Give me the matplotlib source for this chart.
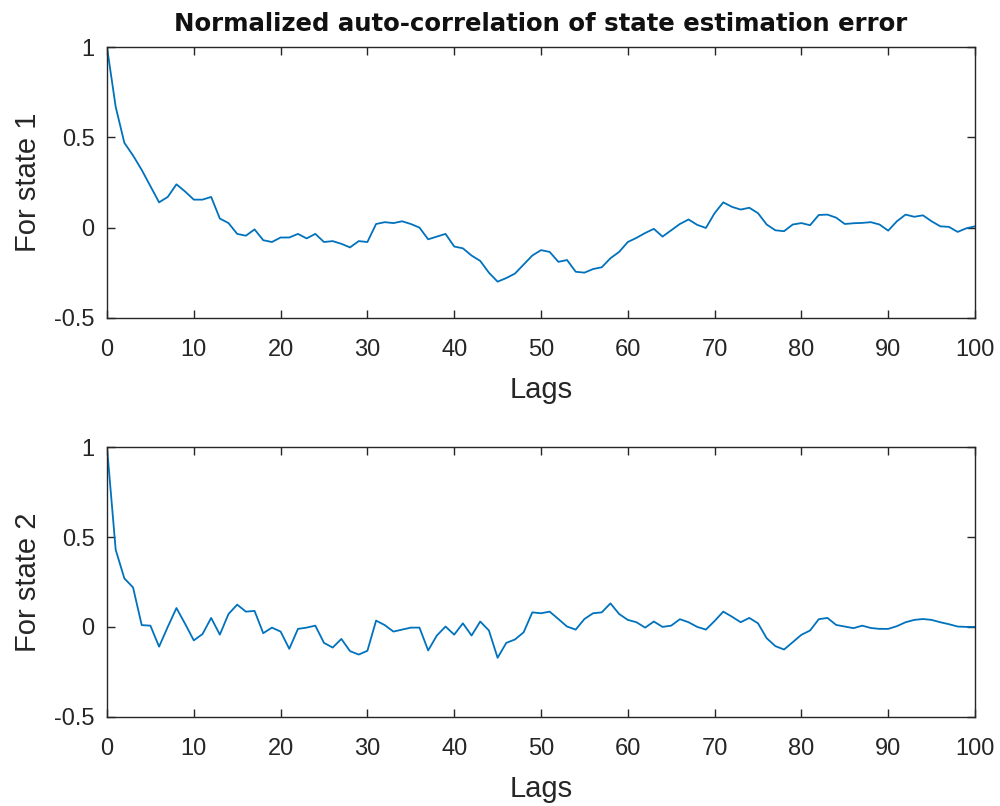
"""Normalized auto-correlation of state estimation error, two states."""

import matplotlib
matplotlib.use("Agg")
import matplotlib.pyplot as plt
import numpy as np

lags = np.arange(0, 101)

state1 = [
    1.0, 0.67, 0.47, 0.40, 0.32, 0.23, 0.14, 0.17, 0.24, 0.20,
    0.155, 0.155, 0.17, 0.05, 0.025, -0.035, -0.045, -0.01, -0.07, -0.08,
    -0.055, -0.055, -0.035, -0.06, -0.035, -0.08, -0.075, -0.09, -0.11, -0.075,
    -0.08, 0.02, 0.03, 0.025, 0.035, 0.02, 0.0, -0.065, -0.05, -0.035,
    -0.105, -0.115, -0.155, -0.185, -0.25, -0.30, -0.28, -0.255, -0.205, -0.155,
    -0.125, -0.135, -0.19, -0.18, -0.245, -0.25, -0.23, -0.22, -0.17, -0.135,
    -0.08, -0.057, -0.03, -0.007, -0.05, -0.015, 0.02, 0.045, 0.015, -0.002,
    0.08, 0.14, 0.115, 0.10, 0.11, 0.08, 0.017, -0.015, -0.02, 0.017,
    0.025, 0.013, 0.07, 0.072, 0.055, 0.02, 0.024, 0.026, 0.03, 0.017,
    -0.017, 0.035, 0.072, 0.06, 0.068, 0.035, 0.007, 0.004, -0.024, -0.004,
    0.007,
]

state2 = [
    1.0, 0.43, 0.27, 0.22, 0.01, 0.007, -0.11, 0.0, 0.105, 0.017,
    -0.075, -0.04, 0.05, -0.043, 0.072, 0.124, 0.085, 0.089, -0.035, -0.004,
    -0.026, -0.122, -0.011, -0.004, 0.007, -0.089, -0.115, -0.067, -0.135, -0.154,
    -0.133, 0.035, 0.01, -0.026, -0.015, -0.004, -0.004, -0.131, -0.048, 0.002,
    -0.043, 0.02, -0.048, 0.03, -0.02, -0.172, -0.089, -0.07, -0.03, 0.081,
    0.076, 0.085, 0.044, 0.002, -0.015, 0.044, 0.076, 0.081, 0.131, 0.072,
    0.039, 0.026, -0.004, 0.03, 0.0, 0.007, 0.043, 0.026, 0.0, -0.015,
    0.033, 0.085, 0.057, 0.026, 0.05, 0.02, -0.063, -0.107, -0.126, -0.085,
    -0.044, -0.02, 0.043, 0.05, 0.011, 0.002, -0.007, 0.007, -0.006, -0.011,
    -0.011, 0.004, 0.026, 0.039, 0.044, 0.039, 0.026, 0.015, 0.002, 0.0,
    0.0,
]

ylabels = ["For state 1", "For state 2"]

plt.rcParams["font.family"] = ["Liberation Sans", "DejaVu Sans"]
INK = "#262626"
LINE = "#0072BD"

fig = plt.figure(figsize=(10, 8.06), dpi=100)
ax1 = fig.add_axes([0.107, 0.6058, 0.868, 0.3355])
ax2 = fig.add_axes([0.107, 0.1108, 0.868, 0.3342])

for ax, data, lab in zip([ax1, ax2], [state1, state2], ylabels):
    ax.plot(lags, data, color=LINE, lw=1.3)
    ax.set_xlim(0, 100)
    ax.set_ylim(-0.5, 1)
    ax.set_xticks(np.arange(0, 101, 10))
    ax.set_yticks([-0.5, 0, 0.5, 1])
    ax.set_yticklabels(["-0.5", "0", "0.5", "1"])
    ax.tick_params(direction="in", length=6, width=1, colors=INK,
                   labelsize=17, top=True, right=True)
    ax.tick_params(axis="x", pad=15)
    ax.tick_params(axis="y", pad=9)
    for s in ax.spines.values():
        s.set_color(INK)
        s.set_linewidth(1)
    ax.set_xlabel("Lags", fontsize=21, color=INK, labelpad=11)
    ax.set_ylabel(lab, fontsize=21, color=INK, labelpad=9)

# the reference title is a wide, loosely spaced bold sans
ax1.set_title("Normalized auto-correlation of state estimation error",
              family="DejaVu Sans", fontweight="bold",
              fontsize=17.6, color="#111111", pad=12)

fig.savefig("out.png")
